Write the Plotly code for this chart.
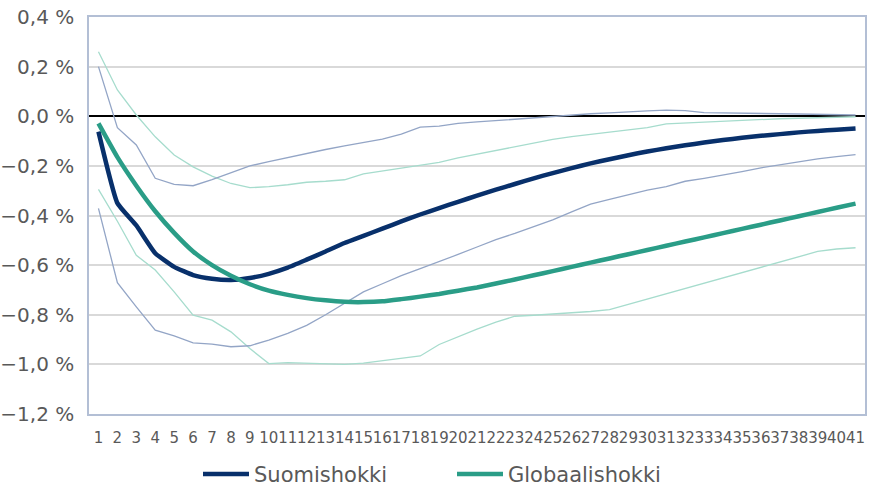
import plotly.graph_objects as go

periods = [str(i) for i in range(1, 42)]

suomi = [-0.062, -0.350, -0.440, -0.552, -0.607, -0.640, -0.655, -0.660, -0.652, -0.635,
         -0.610, -0.578, -0.545, -0.511, -0.482, -0.453, -0.424, -0.396, -0.370, -0.345,
         -0.320, -0.296, -0.273, -0.250, -0.229, -0.209, -0.190, -0.173, -0.157, -0.142,
         -0.129, -0.117, -0.106, -0.096, -0.087, -0.079, -0.072, -0.065, -0.059, -0.054, -0.049]
suomi_hi = [0.200, -0.046, -0.116, -0.250, -0.275, -0.280, -0.255, -0.228, -0.200, -0.183,
            -0.166, -0.150, -0.134, -0.119, -0.105, -0.092, -0.072, -0.044, -0.040, -0.029,
            -0.023, -0.017, -0.011, -0.005, -0.001, 0.004, 0.010, 0.014, 0.019, 0.022,
            0.025, 0.023, 0.015, 0.013, 0.012, 0.011, 0.010, 0.009, 0.008, 0.007, 0.005]
suomi_lo = [-0.371, -0.671, -0.768, -0.862, -0.885, -0.913, -0.918, -0.929, -0.925, -0.902,
            -0.875, -0.843, -0.800, -0.755, -0.708, -0.675, -0.642, -0.614, -0.587, -0.557,
            -0.527, -0.497, -0.472, -0.445, -0.418, -0.385, -0.354, -0.335, -0.315, -0.298,
            -0.284, -0.262, -0.250, -0.238, -0.223, -0.208, -0.195, -0.182, -0.172, -0.163, -0.155]

glob = [-0.029, -0.165, -0.280, -0.383, -0.470, -0.545, -0.600, -0.643, -0.677, -0.703,
        -0.720, -0.733, -0.742, -0.748, -0.749, -0.746, -0.737, -0.727, -0.716, -0.703,
        -0.690, -0.674, -0.658, -0.641, -0.624, -0.607, -0.590, -0.573, -0.556, -0.539,
        -0.522, -0.505, -0.488, -0.471, -0.454, -0.437, -0.420, -0.403, -0.386, -0.369, -0.352]
glob_hi = [0.260, 0.106, 0.005, -0.083, -0.156, -0.204, -0.241, -0.271, -0.288, -0.284,
           -0.276, -0.266, -0.262, -0.256, -0.232, -0.220, -0.209, -0.197, -0.186, -0.168,
           -0.153, -0.138, -0.123, -0.108, -0.093, -0.082, -0.073, -0.064, -0.055, -0.046,
           -0.031, -0.027, -0.023, -0.019, -0.016, -0.013, -0.010, -0.008, -0.006, -0.004, -0.002]
glob_lo = [-0.295, -0.423, -0.560, -0.620, -0.708, -0.802, -0.822, -0.869, -0.936, -0.997,
           -0.993, -0.995, -0.999, -1.000, -0.995, -0.985, -0.975, -0.966, -0.920, -0.888,
           -0.858, -0.830, -0.806, -0.802, -0.798, -0.794, -0.787, -0.779, -0.758, -0.737,
           -0.716, -0.695, -0.674, -0.653, -0.632, -0.611, -0.590, -0.569, -0.545, -0.535, -0.530]

ytick_vals = [0.4, 0.2, 0.0, -0.2, -0.4, -0.6, -0.8, -1.0, -1.2]
ytick_text = ["0,4 %", "0,2 %", "0,0 %", "\u22120,2 %", "\u22120,4 %", "\u22120,6 %",
              "\u22120,8 %", "\u22121,0 %", "\u22121,2 %"]

NAVY = "#08306b"
TEAL = "#2a9d87"
NAVY_L = "#93a5c6"
TEAL_L = "#a6dccd"
TXT = "#595959"

fig = go.Figure()
fig.add_trace(go.Scatter(x=periods, y=glob_hi, mode="lines", line=dict(color=TEAL_L, width=1.3), showlegend=False))
fig.add_trace(go.Scatter(x=periods, y=glob_lo, mode="lines", line=dict(color=TEAL_L, width=1.3), showlegend=False))
fig.add_trace(go.Scatter(x=periods, y=suomi_hi, mode="lines", line=dict(color=NAVY_L, width=1.3), showlegend=False))
fig.add_trace(go.Scatter(x=periods, y=suomi_lo, mode="lines", line=dict(color=NAVY_L, width=1.3), showlegend=False))
fig.add_trace(go.Scatter(x=periods, y=suomi, mode="lines", name="Suomishokki",
                         line=dict(color=NAVY, width=4.5, shape="spline", smoothing=0.4)))
fig.add_trace(go.Scatter(x=periods, y=glob, mode="lines", name="Globaalishokki",
                         line=dict(color=TEAL, width=4.5, shape="spline", smoothing=0.4)))

fig.update_layout(
    width=869, height=488,
    margin=dict(l=89, r=4, t=17, b=74, autoexpand=False),
    paper_bgcolor="white", plot_bgcolor="white",
    font=dict(family="DejaVu Sans", color=TXT),
    showlegend=True,
    legend=dict(orientation="h", x=(190 - 81) / 776, xanchor="left", y=-0.152, yanchor="middle",
                font=dict(size=21, color=TXT), itemwidth=46, entrywidth=193, entrywidthmode="pixels"),
    xaxis=dict(type="category", range=[-0.5, 40.5], tickangle=0, tickfont=dict(size=15, color=TXT),
               showgrid=False, showline=True, linecolor="#b3bfd5", linewidth=1.5, mirror=True,
               ticks="", automargin=False, ticklabelstandoff=9, ticklabeloverflow="allow"),
    yaxis=dict(range=[-1.2, 0.4], tickvals=ytick_vals, ticktext=ytick_text,
               tickfont=dict(size=20, color=TXT),
               showgrid=True, gridcolor="#d9d9d9", gridwidth=1.5,
               zeroline=True, zerolinecolor="black", zerolinewidth=1.5,
               showline=True, linecolor="#b3bfd5", linewidth=1.5, mirror=True,
               ticks="", ticklabelstandoff=9, automargin=False, ticklabeloverflow="allow"),
)

# remove the browser's default 8px body margin so the 869x488 figure fills the window exactly
fig.write_html("out.html", config={"displayModeBar": False},
               post_script="document.body.style.margin='0px';")
